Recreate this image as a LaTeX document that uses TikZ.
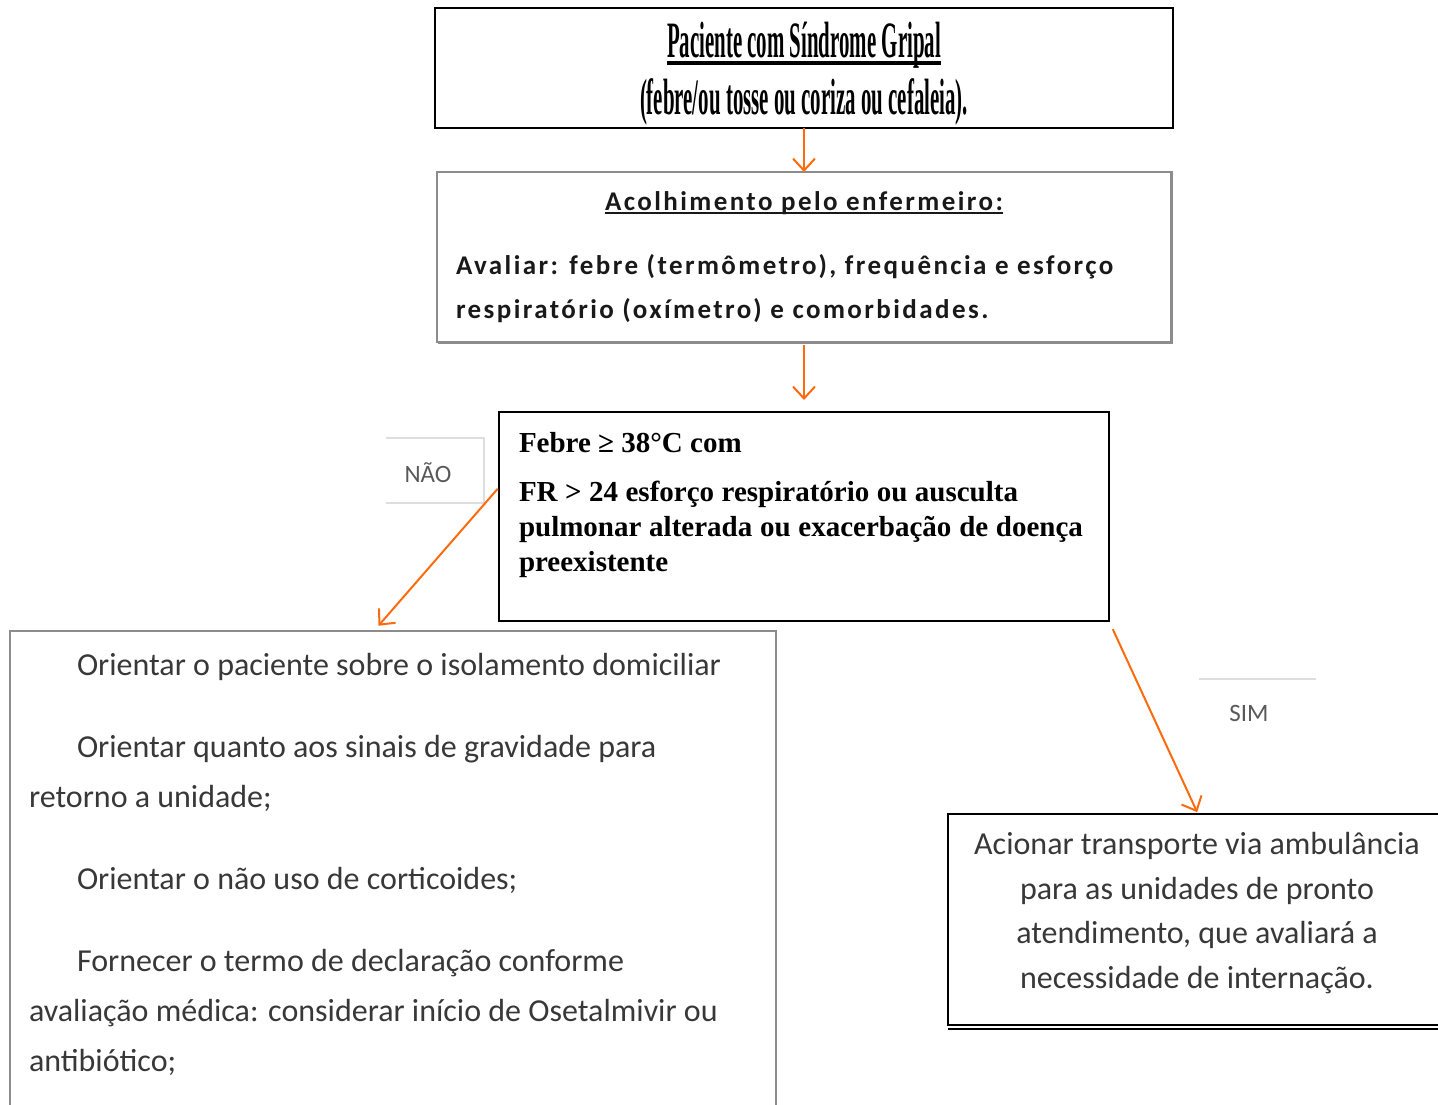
\documentclass[tikz,border=0pt]{standalone}
\usepackage{fontspec}
\setmainfont{Liberation Serif}
\newfontfamily\calibri{Carlito}
\newfontfamily\calibriesp[LetterSpace=9]{Carlito}
\usetikzlibrary{positioning, arrows.meta, calc}
\definecolor{laranja}{HTML}{FF6A0D}
\definecolor{cinzatexto}{HTML}{383838}
% sublinhado com espessura propria
\newcommand{\grifo}[3]{\leavevmode\setbox0\hbox{#3}\rlap{\rule[#1]{\wd0}{#2}}\box0}

\begin{document}
\begin{tikzpicture}[x=1pt, y=-1pt,
    every node/.style={inner sep=0pt, outer sep=0pt},
    caixa/.style={draw, anchor=north west, line width=2pt},
    seta/.style={draw=laranja, line width=2pt, -{Straight Barb[length=12pt, width=22pt, line width=2pt]}},
    linhaclara/.style={draw=black!13, line width=1.5pt},
    titulo/.style={font=\bfseries\fontsize{51}{57}\selectfont, anchor=base},
    negrito/.style={font=\calibriesp\bfseries\fontsize{27}{44}\selectfont, text=black!90, align=left, anchor=base west},
    criterio/.style={font=\bfseries\fontsize{29}{35}\selectfont, align=left, anchor=base west},
    orienta/.style={font=\calibri\fontsize{32}{50}\selectfont, text=cinzatexto, align=left, anchor=base west},
    aciona/.style={font=\calibri\fontsize{32}{44.5}\selectfont, text=cinzatexto, align=center, anchor=base},
    rotulo/.style={font=\calibri\fontsize{25}{30}\selectfont, text=black!65, anchor=base}]
    \useasboundingbox (0,0) rectangle (1438,1104);
    \clip (0,0) rectangle (1438,1104);

    % caixas
    \node[caixa, minimum width=738pt, minimum height=120pt] (paciente) at (435,8) {};
    \node[caixa, draw=black!45, line width=1.5pt, minimum width=734pt, minimum height=170pt] (acolhe) at (437,172) {};
    \draw[black!45, line width=1.5pt] ([xshift=1.5pt, yshift=1pt]acolhe.north east) -- ([xshift=1.5pt, yshift=-1.5pt]acolhe.south east)
        -- ([xshift=1pt, yshift=-1.5pt]acolhe.south west);
    \node[caixa, line width=1.2pt, minimum width=610pt, minimum height=209pt] (febre) at (499,412) {};
    \node[caixa, draw=black!45, minimum width=766pt, minimum height=520pt] (nao) at (10,631) {};
    \node[caixa, minimum width=500pt, minimum height=211pt] (sim) at (948,814) {};
    \draw[line width=1.5pt] ([yshift=-4pt]sim.south west) -- ([yshift=-4pt]sim.south east);

    % textos (ancorados na linha de base da ultima linha)
    \node[titulo] (tit1) at (804,57)
        {\resizebox{274pt}{\height}{\grifo{-8pt}{4pt}{Paciente com Síndrome Gripal}}};
    \node[titulo] (tit2) at (804,114)
        {\resizebox{328pt}{\height}{(febre/ou tosse ou coriza ou cefaleia).}};
    \node[negrito, anchor=base] (acolhetit) at (804,210)
        {\grifo{-4pt}{2.5pt}{Acolhimento pelo enfermeiro:}};
    \node[negrito] (avaliar) at (456,318)
        {Avaliar: febre (termômetro), frequência e esforço\\
         respiratório (oxímetro) e comorbidades.};
    \node[criterio] (febre38) at (519,452) {Febre ≥ 38°C com};
    \node[criterio] (fr24) at (519,571)
        {\makebox[499pt][s]{FR > 24 esforço respiratório ou ausculta}\\
         \makebox[564pt][s]{pulmonar alterada ou exacerbação de doença}\\
         preexistente};
    \node[orienta] (isola) at (29,675)
        {\hspace*{48pt}Orientar o paciente sobre o isolamento domiciliar};
    \node[orienta] (gravidade) at (29,807)
        {\hspace*{48pt}Orientar quanto aos sinais de gravidade para\\
         retorno a unidade;};
    \node[orienta] (cortico) at (29,889)
        {\hspace*{48pt}Orientar o não uso de corticoides;};
    \node[orienta] (termo) at (29,1071)
        {\hspace*{48pt}Fornecer o termo de declaração conforme\\
         avaliação médica: considerar início de Osetalmivir ou\\
         antibiótico;};
    \node[aciona] (ambulancia) at (1197,988)
        {Acionar transporte via ambulância\\
         para as unidades de pronto\\
         atendimento, que avaliará a\\
         necessidade de internação.};

    % rotulos das ramificacoes
    \node[rotulo] (rotnao) at (428,482) {NÃO};
    \draw[linhaclara] (386,438) -- (484,438) -- (484,503) -- (386,503);
    \node[rotulo] (rotsim) at (1249,721) {SIM};
    \draw[linhaclara] (1199,679) -- (1316,679);

    % setas
    \draw[seta] (paciente.south) -- (acolhe.north);
    \draw[seta, shorten <=3pt, shorten >=12pt] (acolhe.south) -- (febre.north);
    \draw[seta, shorten <=2pt, shorten >=7pt]
        ($(febre.north west)!0.36!(febre.south west)$) -- ($(nao.north west)!0.475!(nao.north east)$);
    \draw[seta, shorten <=9pt, shorten >=2pt] (febre.south east) -- (sim.north);
\end{tikzpicture}
\end{document}
